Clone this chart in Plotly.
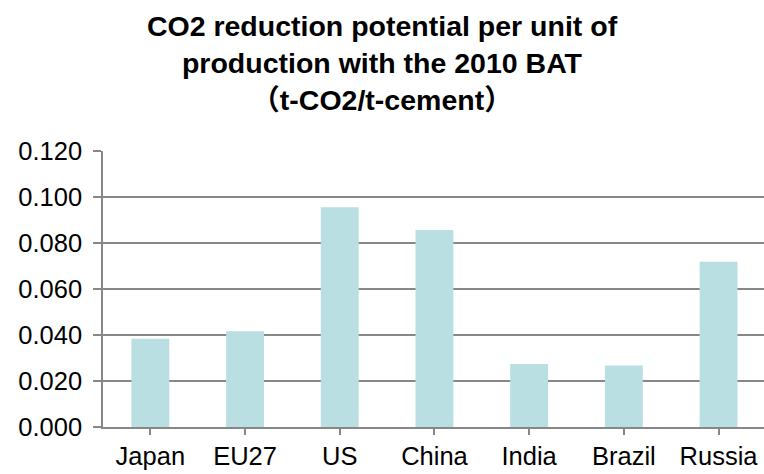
import plotly.graph_objects as go

# CO2 reduction potential per unit of cement production with the 2010 BAT
regions = ["Japan", "EU27", "US", "China", "India", "Brazil", "Russia"]
reduction = [0.0384, 0.0416, 0.0955, 0.0857, 0.0274, 0.0267, 0.0719]
y_ticks = [0.0, 0.02, 0.04, 0.06, 0.08, 0.10, 0.12]

FONT = "Arial, 'Liberation Sans', 'Noto Sans CJK JP', sans-serif"
GRAY = "#878787"

fig = go.Figure(
    go.Bar(
        x=list(range(len(regions))),
        y=reduction,
        width=0.4,
        marker=dict(color="#B9DFE3", line=dict(width=0)),
        hoverinfo="x+y",
    )
)

fig.update_layout(
    width=764,
    height=474,
    margin=dict(l=103, r=0, t=151, b=47),
    paper_bgcolor="white",
    plot_bgcolor="white",
    showlegend=False,
    font=dict(family=FONT, size=25.5, color="#000000"),
    title=dict(
        text="<b>CO2 reduction potential per unit of<br>production with the 2010 BAT<br>（t-CO2/t-cement）</b>",
        x=0.5,
        xref="container",
        xanchor="center",
        y=0.925,
        yref="container",
        yanchor="top",
        font=dict(family=FONT, size=28.5, color="#000000"),
    ),
    xaxis=dict(
        tickmode="array",
        tickvals=list(range(len(regions))),
        ticktext=regions,
        range=[-0.5, -0.5 + 661 / 94.7],
        showgrid=False,
        showline=True,
        linecolor=GRAY,
        linewidth=1.5,
        ticks="outside",
        tickson="boundaries",
        ticklen=6,
        tickwidth=1.5,
        tickcolor=GRAY,
        zeroline=False,
    ),
    yaxis=dict(
        range=[0, 0.12],
        tickmode="array",
        tickvals=y_ticks,
        tickformat=".3f",
        showgrid=True,
        gridcolor=GRAY,
        gridwidth=1.5,
        showline=True,
        linecolor=GRAY,
        linewidth=1.5,
        ticks="outside",
        ticklen=8,
        tickwidth=1.5,
        tickcolor=GRAY,
        ticklabelstandoff=6,
        zeroline=False,
    ),
)

fig.write_html("out.html")
